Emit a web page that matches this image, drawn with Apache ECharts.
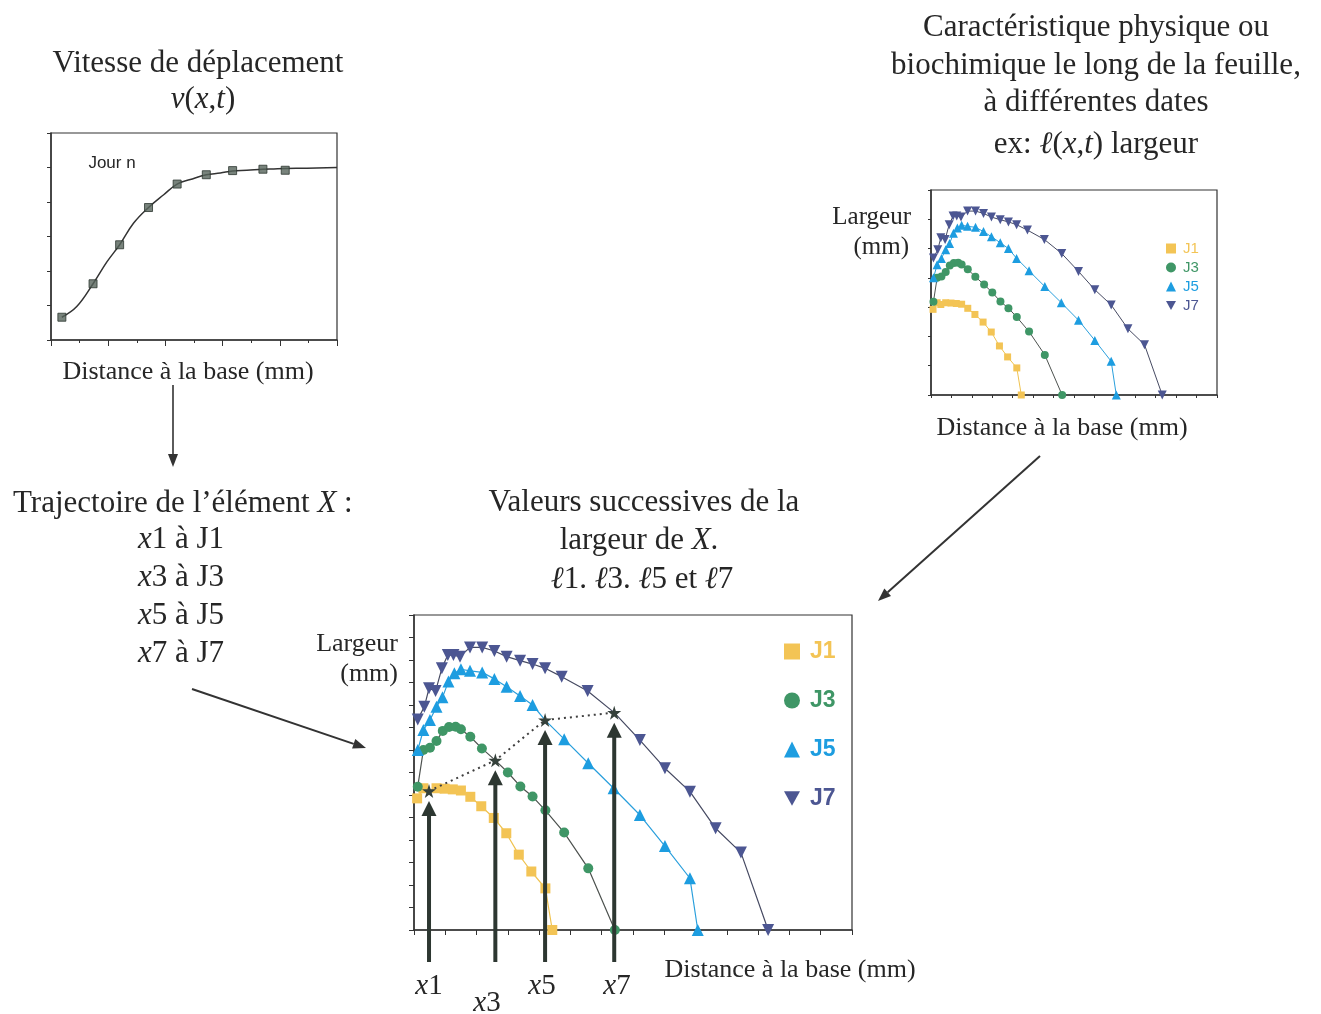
<!DOCTYPE html>
<html><head><meta charset="utf-8">
<script src="https://cdn.jsdelivr.net/npm/echarts@6/dist/echarts.min.js"></script>
<style>html,body{margin:0;padding:0;background:#fff}#c{width:1321px;height:1014px}</style>
</head><body><div id="c"></div>
<script>
// ---- Data (axis units = tick steps) ----
// Top-left: speed of displacement v(x,t), "Jour n"
const velX = [0.38, 1.47, 2.40, 3.41, 4.41, 5.43, 6.35, 7.41, 8.19];
const velY = [0.66, 1.63, 2.76, 3.84, 4.52, 4.79, 4.91, 4.95, 4.92];
// fitted curve drawn through the markers
const curveX = [0.38, 0.90, 1.47, 1.96, 2.40, 2.89, 3.41, 3.94, 4.41, 4.87, 5.43, 5.92, 6.35, 6.85, 7.41, 7.79, 8.20, 8.95, 10.0];
const curveY = [0.66, 0.97, 1.63, 2.27, 2.76, 3.39, 3.84, 4.21, 4.52, 4.65, 4.79, 4.84, 4.90, 4.92, 4.95, 4.96, 4.97, 4.98, 5.00];

// Width along the leaf at different dates
const j1X = [0.10, 0.30, 0.48, 0.72, 0.98, 1.24, 1.50, 1.80, 2.15, 2.55, 2.95, 3.35, 3.75, 4.20, 4.42];
const j1Y = [5.85, 6.30, 6.18, 6.30, 6.28, 6.25, 6.20, 5.92, 5.50, 4.98, 4.30, 3.35, 2.60, 1.85, 0];
const j3X = [0.12, 0.30, 0.51, 0.72, 0.92, 1.12, 1.33, 1.50, 1.80, 2.17, 2.60, 3.00, 3.40, 3.79, 4.20, 4.80, 5.57, 6.42];
const j3Y = [6.37, 8.00, 8.10, 8.40, 8.85, 9.02, 9.03, 8.92, 8.59, 8.07, 7.54, 7.00, 6.38, 5.93, 5.32, 4.33, 2.74, 0];
const j5X = [0.12, 0.30, 0.51, 0.72, 0.91, 1.10, 1.29, 1.50, 1.79, 2.18, 2.57, 2.96, 3.39, 3.79, 4.19, 4.80, 5.57, 6.38, 7.22, 8.02, 8.82, 9.07];
const j5Y = [8.00, 8.89, 9.33, 9.92, 10.34, 11.04, 11.41, 11.59, 11.52, 11.45, 11.16, 10.81, 10.40, 10.00, 9.33, 8.48, 7.41, 6.30, 5.11, 3.73, 2.30, 0];
const j7X = [0.12, 0.33, 0.48, 0.69, 0.89, 1.08, 1.26, 1.47, 1.79, 2.18, 2.57, 2.96, 3.39, 3.79, 4.19, 4.72, 5.55, 6.40, 7.22, 8.02, 8.82, 9.64, 10.45, 11.32];
const j7Y = [9.36, 9.92, 10.74, 10.62, 11.63, 12.22, 12.22, 12.15, 12.56, 12.56, 12.40, 12.15, 11.97, 11.82, 11.63, 11.26, 10.62, 9.66, 8.44, 7.19, 6.15, 4.52, 3.44, 0];

// Successive widths of element X (x1 at J1, x3 at J3, x5 at J5, x7 at J7)
const starNames = ['x1', 'x3', 'x5', 'x7'];
const starX = [0.48, 2.60, 4.19, 6.40];
const starY = [6.18, 7.54, 9.33, 9.66];

const seriesNames = ['J1', 'J3', 'J5', 'J7'];
// ---------------------------------------------------------------

const pairs = (xs, ys) => xs.map((x, i) => [x, ys[i]]);
const jData = [pairs(j1X, j1Y), pairs(j3X, j3Y), pairs(j5X, j5Y), pairs(j7X, j7Y)];

const FILL = ['#f3c455', '#3f9666', '#1d9de0', '#4c5692'];
const LINEC = ['#efc24f', '#4d524f', '#2a9fdc', '#464a62'];
const SYM = ['rect', 'circle', 'triangle', 'path://M0,0L10,0L5,9Z'];
const INK = '#262626';
const SERIF = '"Liberation Serif", "Times New Roman", serif';
const SANS = '"Liberation Sans", Arial, sans-serif';

const chart = echarts.init(document.getElementById('c'), null, {renderer: 'canvas'});

function axisStyle(len) {
  return {
    axisLine: {show: true, lineStyle: {color: '#333', width: 1.5}},
    axisTick: {show: true, inside: false, length: len, lineStyle: {color: '#333', width: 1}},
    axisLabel: {show: false},
    splitLine: {show: false}
  };
}

const series = [];
// top-left
series.push({
  type: 'line', xAxisIndex: 0, yAxisIndex: 0, data: pairs(curveX, curveY),
  smooth: 0.4, symbol: 'none', lineStyle: {color: '#333', width: 1.5}, z: 2
});
series.push({
  type: 'scatter', xAxisIndex: 0, yAxisIndex: 0, data: pairs(velX, velY),
  symbol: 'rect', symbolSize: 8,
  itemStyle: {color: '#56645b', borderColor: '#2c3630', borderWidth: 1}, z: 3
});
// top-right
const smallSize = [7, 8, 9, 9];
seriesNames.forEach((n, k) => {
  series.push({
    name: n, type: 'line', xAxisIndex: 1, yAxisIndex: 1, data: jData[k],
    symbol: SYM[k], symbolSize: smallSize[k], showAllSymbol: true,
    itemStyle: {color: FILL[k]}, lineStyle: {color: LINEC[k], width: 1}
  });
});
// bottom
const bigSize = [10, 10, 12, 12];
seriesNames.forEach((n, k) => {
  const d = jData[k].map(p => (Math.abs(p[0] - starX[k]) < 1e-9 && Math.abs(p[1] - starY[k]) < 1e-9)
    ? {value: p, symbol: 'none'} : p);
  series.push({
    name: n, type: 'line', xAxisIndex: 2, yAxisIndex: 2, data: d,
    symbol: SYM[k], symbolSize: bigSize[k], showAllSymbol: true,
    itemStyle: {color: FILL[k]}, lineStyle: {color: LINEC[k], width: 1.2}
  });
});
// vertical arrows toward the x-points
series.push({
  type: 'custom', xAxisIndex: 2, yAxisIndex: 2, clip: false, z: 5,
  data: pairs(starX, starY),
  renderItem: function (params, api) {
    const tip = api.coord([api.value(0), api.value(1)]);
    const base = api.coord([api.value(0), 0]);
    const x = tip[0], yTip = tip[1] + 10, yBot = base[1] + 32, hl = 15, hw = 7.5;
    return {type: 'group', children: [
      {type: 'line', shape: {x1: x, y1: yBot, x2: x, y2: yTip + hl - 2}, style: {stroke: '#2d3731', lineWidth: 4}},
      {type: 'polygon', shape: {points: [[x, yTip], [x - hw, yTip + hl], [x + hw, yTip + hl]]}, style: {fill: '#2d3731'}}
    ]};
  }
});
// dotted trajectory of X through the stars
series.push({
  type: 'line', xAxisIndex: 2, yAxisIndex: 2, data: pairs(starX, starY), z: 6,
  symbol: 'path://M50,0L61,35L98,35L68,57L79,91L50,70L21,91L32,57L2,35L39,35Z', symbolSize: 14,
  itemStyle: {color: '#34403a'}, lineStyle: {color: '#3f3f3f', width: 2, type: [2, 4]}
});

function arrow(x1, y1, x2, y2, w) {
  const a = Math.atan2(y2 - y1, x2 - x1), hl = 13, hw = 5;
  const bx = x2 - hl * Math.cos(a), by = y2 - hl * Math.sin(a);
  const px = -Math.sin(a) * hw, py = Math.cos(a) * hw;
  return [
    {type: 'line', shape: {x1: x1, y1: y1, x2: bx, y2: by}, style: {stroke: '#333', lineWidth: w}},
    {type: 'polygon', shape: {points: [[x2, y2], [bx + px, by + py], [bx - px, by - py]]}, style: {fill: '#333'}}
  ];
}
function txt(x, y, text, size, align, extra) {
  return {
    type: 'text', x: x, y: y, silent: true,
    style: Object.assign({
      text: text, fill: INK, fontSize: size, fontFamily: SERIF,
      align: align || 'center', verticalAlign: 'middle',
      rich: {
        i: {fontStyle: 'italic', fontSize: size, fontFamily: SERIF, fill: INK}
      }
    }, extra || {})
  };
}

const graphics = [
  txt(198, 64, 'Vitesse de déplacement', 31),
  txt(203, 100, '{i|v}({i|x},{i|t})', 31),
  txt(112, 163, 'Jour n', 17, 'center', {fontFamily: SANS}),
  txt(188, 372, 'Distance à la base (mm)', 26),
  txt(13, 504, 'Trajectoire de l\u2019élément {i|X} :', 31, 'left'),
  txt(138, 540, '{i|x}1 à J1', 31, 'left'),
  txt(138, 578, '{i|x}3 à J3', 31, 'left'),
  txt(138, 616, '{i|x}5 à J5', 31, 'left'),
  txt(138, 654, '{i|x}7 à J7', 31, 'left'),
  txt(644, 503, 'Valeurs successives de la', 31),
  txt(639, 541, 'largeur de {i|X}.', 31),
  txt(642, 580, '{i|ℓ}1. {i|ℓ}3. {i|ℓ}5 et {i|ℓ}7', 31),
  txt(398, 644, 'Largeur', 26, 'right'),
  txt(398, 674, '(mm)', 26, 'right'),
  txt(790, 970, 'Distance à la base (mm)', 26),
  txt(429, 986, '{i|x}1', 29),
  txt(487, 1003, '{i|x}3', 29),
  txt(542, 986, '{i|x}5', 29),
  txt(617, 986, '{i|x}7', 29),
  txt(1096, 28, 'Caractéristique physique ou', 31),
  txt(1096, 66, 'biochimique le long de la feuille,', 31),
  txt(1096, 103, 'à différentes dates', 31),
  txt(1096, 145, 'ex: {i|ℓ}({i|x},{i|t}) largeur', 31),
  txt(911, 217, 'Largeur', 25, 'right'),
  txt(909, 247, '(mm)', 25, 'right'),
  txt(1062, 428, 'Distance à la base (mm)', 26)
].concat(
  arrow(173, 385, 173, 467, 1.6),
  arrow(192, 689, 366, 748, 2),
  arrow(1040, 456, 878, 601, 2)
);

const legendItems = (big) => seriesNames.map((n, k) => ({
  name: n, icon: SYM[k],
  textStyle: {color: FILL[k], fontSize: big ? 23 : 15, fontWeight: big ? 'bold' : 'normal', fontFamily: SANS, padding: [0, 0, 0, big ? 5 : 2]}
}));

chart.setOption({
  animation: false,
  backgroundColor: '#ffffff',
  grid: [
    {left: 51, top: 133, width: 286, height: 207, show: true, borderColor: '#333', borderWidth: 1.2},
    {left: 931, top: 190, width: 286, height: 205, show: true, borderColor: '#333', borderWidth: 1.2},
    {left: 414, top: 615, width: 438, height: 315, show: true, borderColor: '#333', borderWidth: 1.2}
  ],
  xAxis: [
    Object.assign({gridIndex: 0, type: 'value', min: 0, max: 10, interval: 2,
      minorTick: {show: true, splitNumber: 2, length: 3, lineStyle: {color: '#333'}}, minorSplitLine: {show: false}}, axisStyle(6)),
    Object.assign({gridIndex: 1, type: 'value', min: 0, max: 14, interval: 1}, axisStyle(3)),
    Object.assign({gridIndex: 2, type: 'value', min: 0, max: 14, interval: 1}, axisStyle(5))
  ],
  yAxis: [
    Object.assign({gridIndex: 0, type: 'value', min: 0, max: 6, interval: 1}, axisStyle(4)),
    Object.assign({gridIndex: 1, type: 'value', min: 0, max: 14, interval: 2}, axisStyle(3)),
    Object.assign({gridIndex: 2, type: 'value', min: 0, max: 14, interval: 1}, axisStyle(5))
  ],
  legend: [
    {orient: 'vertical', left: 1161, top: 236, itemWidth: 10, itemHeight: 10, itemGap: 4,
      selectedMode: false, data: legendItems(false)},
    {orient: 'vertical', left: 779, top: 635, itemWidth: 16, itemHeight: 16, itemGap: 26,
      selectedMode: false, data: legendItems(true)}
  ],
  series: series,
  graphic: graphics
});
</script>
</body></html>
